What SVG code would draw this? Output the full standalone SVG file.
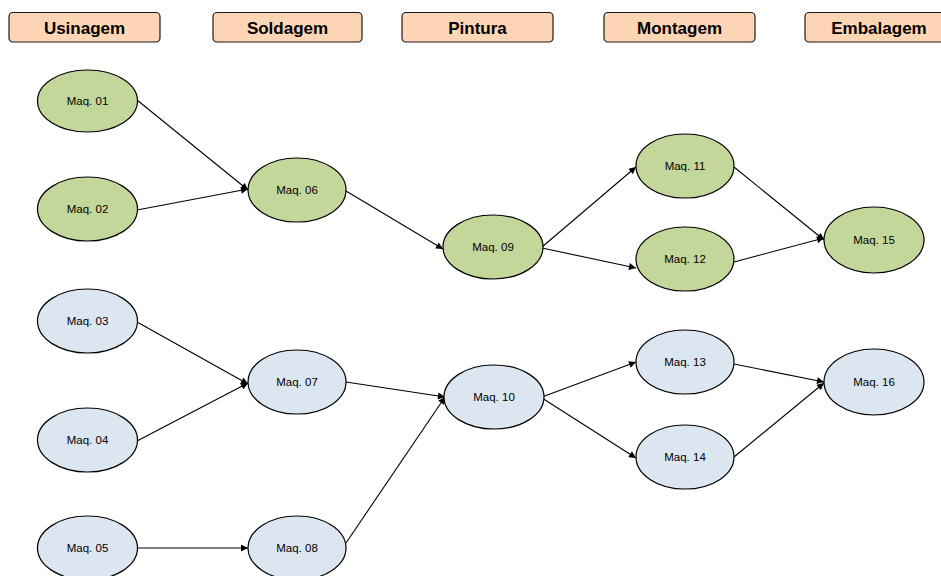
<svg xmlns="http://www.w3.org/2000/svg" width="941" height="576" viewBox="0 0 941 576">
  <style>
    .hdr rect { fill: #fcd5b4; stroke: #1a1a1a; stroke-width: 1.2; }
    .hdr text { font-family: "Liberation Sans", Arial, sans-serif; font-weight: bold; font-size: 17px; fill: #000; text-anchor: middle; }
    .node ellipse { stroke: #000; stroke-width: 1.2; }
    .g ellipse { fill: #c4d79b; }
    .b ellipse { fill: #dce6f1; }
    .node text { font-family: "Liberation Sans", Arial, sans-serif; font-size: 11.5px; fill: #000; text-anchor: middle; }
    #edges line { stroke: #000; stroke-width: 1.1; marker-end: url(#ah); }
  </style>
  <defs>
    <marker id="ah" viewBox="0 0 10 10" refX="10" refY="5" markerWidth="8" markerHeight="7" markerUnits="userSpaceOnUse" orient="auto">
      <path d="M0,0 L10,5 L0,10 z" fill="#000"/>
    </marker>
  </defs>
  <rect width="941" height="576" fill="#fff"/>

  <!-- stage headers -->
  <g id="h-usinagem" class="hdr"><rect x="9" y="12.5" width="151" height="29.5" rx="4"/><text x="84.5" y="33.5">Usinagem</text></g>
  <g id="h-soldagem" class="hdr"><rect x="213" y="12.5" width="149" height="29.5" rx="4"/><text x="287.5" y="33.5">Soldagem</text></g>
  <g id="h-pintura" class="hdr"><rect x="402" y="12.5" width="151" height="29.5" rx="4"/><text x="477.5" y="33.5">Pintura</text></g>
  <g id="h-montagem" class="hdr"><rect x="604" y="12.5" width="151" height="29.5" rx="4"/><text x="679.5" y="33.5">Montagem</text></g>
  <g id="h-embalagem" class="hdr"><rect x="805" y="12.5" width="150" height="29.5" rx="4"/><text x="879" y="33.5">Embalagem</text></g>

  <!-- connectors -->
  <g id="edges">
    <line x1="137" y1="100" x2="248" y2="190"/>
    <line x1="137" y1="210" x2="248" y2="189"/>
    <line x1="346" y1="191" x2="443" y2="249"/>
    <line x1="542" y1="247" x2="636" y2="167"/>
    <line x1="542" y1="248" x2="636" y2="268"/>
    <line x1="734" y1="167" x2="824" y2="240"/>
    <line x1="734" y1="262" x2="824" y2="238"/>
    <line x1="137" y1="322" x2="248" y2="384"/>
    <line x1="137" y1="441" x2="248" y2="383"/>
    <line x1="346" y1="382" x2="445" y2="397"/>
    <line x1="346" y1="543" x2="445" y2="397"/>
    <line x1="137" y1="548" x2="248" y2="548"/>
    <line x1="542" y1="397" x2="636" y2="362"/>
    <line x1="542" y1="398" x2="636" y2="458"/>
    <line x1="734" y1="364" x2="824" y2="382"/>
    <line x1="734" y1="457" x2="824" y2="383"/>
  </g>

  <!-- machines -->
  <g id="m01" class="node g"><ellipse cx="87.5" cy="101" rx="50" ry="31"/><text x="87.5" y="105">Maq. 01</text></g>
  <g id="m02" class="node g"><ellipse cx="87.5" cy="209" rx="50" ry="32"/><text x="87.5" y="213">Maq. 02</text></g>
  <g id="m06" class="node g"><ellipse cx="297" cy="190" rx="49" ry="32"/><text x="297" y="194">Maq. 06</text></g>
  <g id="m09" class="node g"><ellipse cx="493" cy="247" rx="50" ry="32"/><text x="493" y="251">Maq. 09</text></g>
  <g id="m11" class="node g"><ellipse cx="685" cy="166" rx="49" ry="32"/><text x="685" y="170">Maq. 11</text></g>
  <g id="m12" class="node g"><ellipse cx="685" cy="259" rx="49" ry="32"/><text x="685" y="263">Maq. 12</text></g>
  <g id="m15" class="node g"><ellipse cx="874" cy="240" rx="50" ry="33"/><text x="874" y="244">Maq. 15</text></g>

  <g id="m03" class="node b"><ellipse cx="87.5" cy="321" rx="50" ry="32"/><text x="87.5" y="325">Maq. 03</text></g>
  <g id="m04" class="node b"><ellipse cx="87.5" cy="440" rx="50" ry="32"/><text x="87.5" y="444">Maq. 04</text></g>
  <g id="m05" class="node b"><ellipse cx="87.5" cy="548" rx="50" ry="32"/><text x="87.5" y="552">Maq. 05</text></g>
  <g id="m07" class="node b"><ellipse cx="297" cy="382" rx="49" ry="32"/><text x="297" y="386">Maq. 07</text></g>
  <g id="m08" class="node b"><ellipse cx="297" cy="548" rx="49" ry="32"/><text x="297" y="552">Maq. 08</text></g>
  <g id="m10" class="node b"><ellipse cx="494" cy="397" rx="50" ry="32"/><text x="494" y="401">Maq. 10</text></g>
  <g id="m13" class="node b"><ellipse cx="685" cy="362" rx="49" ry="32"/><text x="685" y="366">Maq. 13</text></g>
  <g id="m14" class="node b"><ellipse cx="685" cy="457" rx="49" ry="32"/><text x="685" y="461">Maq. 14</text></g>
  <g id="m16" class="node b"><ellipse cx="874" cy="382" rx="50" ry="33"/><text x="874" y="386">Maq. 16</text></g>
</svg>
